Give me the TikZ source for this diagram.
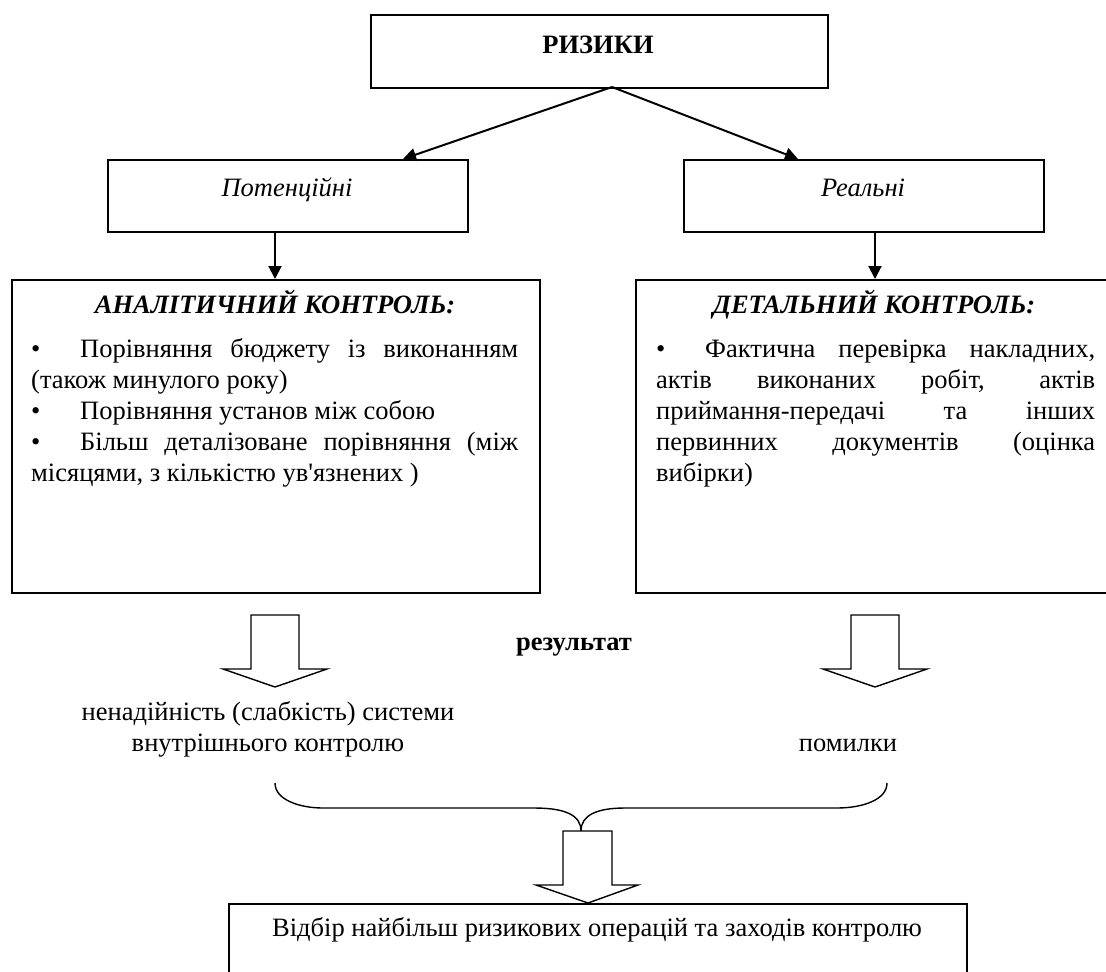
\documentclass[tikz,border=0pt]{standalone}
\usepackage{fontspec}
\setmainfont{Liberation Serif}
\newfontfamily\aposfont{Liberation Serif}
\usetikzlibrary{arrows.meta}
\newcommand{\jl}[2]{\makebox[#1][s]{#2}}
\newcommand{\bul}{\makebox[49pt][l]{\textbullet}}
\newcommand{\mainsize}{\fontsize{26.5}{30.75}\selectfont}
\newcommand{\ap}{{\aposfont'}}
\begin{document}
\begin{tikzpicture}[x=1pt,y=-1pt,
  box/.style={draw, line width=1.8pt, inner sep=0pt, anchor=north west},
  arr/.style={line width=2pt, -{Triangle[length=13pt,width=13pt]}},
  hollow/.style={draw, line width=1.4pt, fill=white, line join=miter},
  txt/.style={font=\mainsize, inner sep=0pt},
  line/.style={txt, anchor=base west},
  ctr/.style={txt, anchor=base},
  brace/.style={line width=1.4pt}
]
\useasboundingbox (0,0) rectangle (1106,972);

% boxes
\node[box, minimum width=457pt, minimum height=73pt] (riz) at (370,14) {};
\node[ctr, font=\mainsize\bfseries] (rizt) at (598,53) {РИЗИКИ};

\node[box, minimum width=360pt, minimum height=72pt] (pot) at (107,159) {};
\node[ctr, font=\mainsize\itshape] (pott) at (287,196) {Потенційні};

\node[box, minimum width=360pt, minimum height=72pt] (real) at (683,159) {};
\node[ctr, font=\mainsize\itshape] (realt) at (863,196) {Реальні};

\node[box, minimum width=528pt, minimum height=313pt] (an) at (11,279) {};
\node[box, minimum width=490pt, minimum height=313pt] (det) at (635,279) {};

\node[ctr, font=\mainsize\bfseries\itshape] (ant) at (275,313) {АНАЛІТИЧНИЙ КОНТРОЛЬ:};
\node[ctr, font=\mainsize\bfseries\itshape] (dett) at (874,313) {ДЕТАЛЬНИЙ КОНТРОЛЬ:};

% left box text
\node[line] (a1) at (31,357) {\jl{487pt}{\bul Порівняння бюджету із виконанням}};
\node[line] (a2) at (31,388) {(також минулого року)};
\node[line] (a3) at (31,419) {\bul Порівняння установ між собою};
\node[line] (a4) at (31,450) {\jl{487pt}{\bul Більш деталізоване порівняння (між}};
\node[line] (a5) at (31,481) {місяцями, з кількістю ув\ap язнених )};

% right box text
\node[line] (d1) at (656,357) {\jl{439pt}{\bul Фактична перевірка накладних,}};
\node[line] (d2) at (656,388) {\jl{439pt}{актів виконаних робіт, актів}};
\node[line] (d3) at (656,419) {\jl{439pt}{приймання-передачі та інших}};
\node[line] (d4) at (656,450) {\jl{439pt}{первинних документів (оцінка}};
\node[line] (d5) at (656,481) {вибірки)};

% arrows
\coordinate (rizout) at (612,87);
\coordinate (potin) at (403,159);
\coordinate (realin) at (798,159);
\draw[arr] (rizout) -- (potin);
\draw[arr] (rizout) -- (realin);
\coordinate (potout) at (275,231);
\coordinate (anin) at (275,279);
\coordinate (realout) at (875,231);
\coordinate (detin) at (875,279);
\draw[arr] (potout) -- (anin);
\draw[arr] (realout) -- (detin);

% hollow arrows
\draw[hollow] (251,615) -- (299,615) -- (299,669) -- (327,669) -- (275,687) -- (223,669) -- (251,669) -- cycle;
\draw[hollow] (851,615) -- (899,615) -- (899,669) -- (927,669) -- (875,687) -- (823,669) -- (851,669) -- cycle;

\node[ctr, font=\mainsize\bfseries] (res) at (574,650) {результат};

\node[ctr] (weak1) at (268,720) {ненадійність (слабкість) системи};
\node[ctr] (weak2) at (268,751) {внутрішнього контролю};
\node[ctr] (err) at (848,751) {помилки};

% brace
\draw[brace] (275,783) .. controls (275,800) and (300,808) .. (323,808) -- (534,808)
  .. controls (565,808) and (581,815) .. (581,831)
  .. controls (581,815) and (597,808) .. (625,808) -- (837,808)
  .. controls (862,808) and (887,800) .. (887,783);

% bottom arrow
\draw[hollow] (563,831) -- (612,831) -- (612,885) -- (638,885) -- (588,903) -- (536,885) -- (563,885) -- cycle;

% bottom box
\node[box, minimum width=738pt, minimum height=90pt] (sel) at (228,903) {};
\node[line] (selt) at (272,936) {Відбір найбільш ризикових операцій та заходів контролю};
\end{tikzpicture}
\end{document}
